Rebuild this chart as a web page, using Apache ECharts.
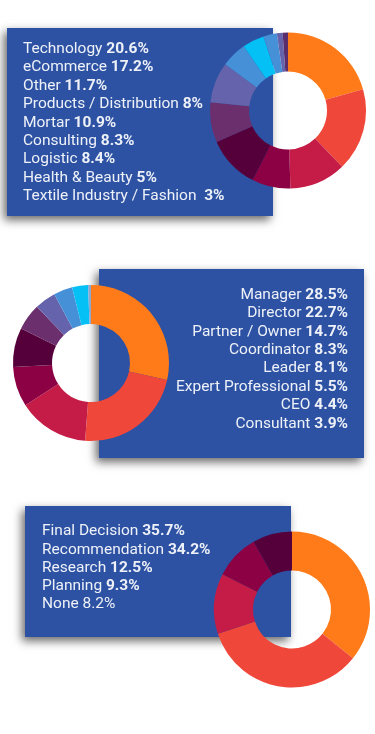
<!DOCTYPE html>
<html>
<head>
<meta charset="utf-8">
<script src="https://cdn.jsdelivr.net/npm/echarts@6/dist/echarts.min.js"></script>
<style>
  html, body { margin: 0; padding: 0; background: #fff; }
  #chart { width: 375px; height: 734px; }
</style>
</head>
<body>
<div id="chart"></div>
<script>
// industry block
const industryNames = ['Technology', 'eCommerce', 'Other', 'Products / Distribution', 'Mortar', 'Consulting', 'Logistic', 'Health & Beauty', 'Textile Industry / Fashion '];
const industryPct = ['20.6%', '17.2%', '11.7%', '8%', '10.9%', '8.3%', '8.4%', '5%', '3%'];
const industrySlices = [20.6, 17.2, 11.7, 8, 10.9, 8.3, 8.4, 5.3, 4.5, 2.8, 1.2, 1.1];

// position block
const roleNames = ['Manager', 'Director', 'Partner / Owner', 'Coordinator', 'Leader', 'Expert Professional', 'CEO', 'Consultant'];
const rolePct = ['28.5%', '22.7%', '14.7%', '8.3%', '8.1%', '5.5%', '4.4%', '3.9%'];
const roleSlices = [28.5, 22.7, 14.7, 8.3, 8.1, 5.5, 4.4, 3.9, 3.3, 0.6];

// decision block
const decisionNames = ['Final Decision', 'Recommendation', 'Research', 'Planning', 'None'];
const decisionPct = ['35.7%', '34.2%', '12.5%', '9.3%', '8.2%'];
const decisionSlices = [35.7, 34.2, 12.5, 9.3, 8.2];

const palette1 = ['#ff7b1a', '#ef473a', '#c41c46', '#8c0044', '#55003a', '#6b2f6e', '#6563ab', '#4690d8', '#05c0f5', '#4690d8', '#6563ab', '#5a2d6c'];
const palette2 = ['#ff7b1a', '#ef473a', '#c41c46', '#8c0044', '#55003a', '#6b2f6e', '#6563ab', '#4690d8', '#05c0f5', '#8fa6cf'];

const BOX = '#2d52a3';
const FONT = 'Roboto';

function box(x, y, w, h) {
  return {
    type: 'rect',
    z: 0,
    shape: { x: x, y: y, width: w, height: h },
    style: {
      fill: BOX,
      shadowBlur: 9,
      shadowOffsetX: -3,
      shadowOffsetY: 4,
      shadowColor: 'rgba(0,0,0,0.6)'
    }
  };
}

function lines(names, pct, x, y0, step, align, boldLast) {
  return names.map((n, i) => ({
    type: 'text',
    z: 10,
    x: x,
    y: y0 + i * step,
    style: {
      text: '{a|' + n + ' }{' + (boldLast === false && i === names.length - 1 ? 'a' : 'b') + '|' + pct[i] + '}',
      align: align,
      verticalAlign: 'middle',
      rich: {
        a: { fontFamily: FONT, fontSize: 15.5, fontWeight: 400, fill: '#eef1f8' },
        b: { fontFamily: FONT, fontSize: 15.5, fontWeight: 700, fill: '#eef1f8' }
      }
    }
  }));
}

function donut(values, colors, cx, cy) {
  return {
    type: 'pie',
    z: 2,
    center: [cx, cy],
    radius: [39, 78],
    startAngle: 90,
    silent: true,
    label: { show: false },
    labelLine: { show: false },
    itemStyle: { borderWidth: 0 },
    data: values.map((v, i) => ({ value: v, itemStyle: { color: colors[i] } }))
  };
}

const chart = echarts.init(document.getElementById('chart'));
chart.setOption({
  animation: false,
  graphic: [
    box(7, 28, 266, 188),
    box(99, 269, 265, 189),
    box(25, 506, 266, 131)
  ]
    .concat(lines(industryNames, industryPct, 23, 48.8, 18.46, 'left'))
    .concat(lines(roleNames, rolePct, 348, 294.7, 18.47, 'right'))
    .concat(lines(decisionNames, decisionPct, 42, 531.4, 18.3, 'left', false)),
  series: [
    donut(industrySlices, palette1, 288, 110.5),
    donut(roleSlices, palette2, 91, 363),
    donut(decisionSlices, palette1, 292, 609.5)
  ]
});
</script>
</body>
</html>
